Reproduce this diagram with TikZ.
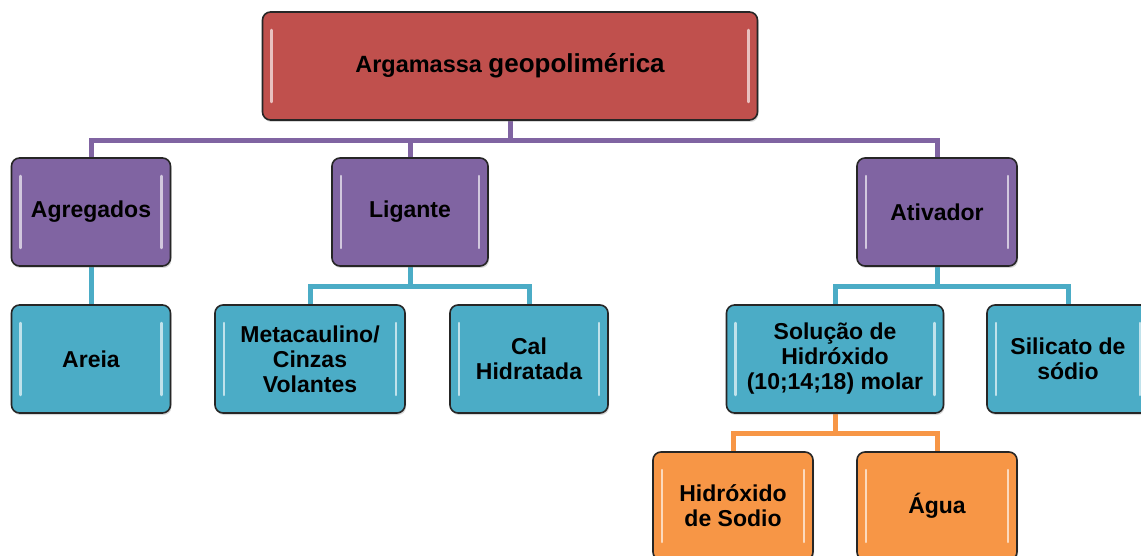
\documentclass[tikz,border=0pt]{standalone}
\usepackage{fontspec}
\setmainfont{Liberation Sans}
\usetikzlibrary{shadows,backgrounds}
\definecolor{cred}{HTML}{C0504D}
\definecolor{cpur}{HTML}{8064A2}
\definecolor{ccya}{HTML}{4BACC6}
\definecolor{cora}{HTML}{F79646}
\tikzset{
  box/.style={draw=black!85, line width=1.6pt, rounded corners=8pt, fill=#1,
    minimum height=108pt, align=center, inner sep=2pt,
    font=\fontsize{23}{25}\selectfont\bfseries,
    drop shadow={shadow xshift=1pt, shadow yshift=-2pt, opacity=0.3},
    path picture={
      \draw[sharp corners, white, opacity=0.65, line width=2.5pt, line cap=round]
        ([xshift=9pt,yshift=-18pt]path picture bounding box.north west) --
        ([xshift=9pt,yshift=18pt]path picture bounding box.south west);
      \draw[sharp corners, white, opacity=0.65, line width=2.5pt, line cap=round]
        ([xshift=-9pt,yshift=-18pt]path picture bounding box.north east) --
        ([xshift=-9pt,yshift=18pt]path picture bounding box.south east);
    }},
  conn/.style={draw=#1, line width=5pt},
}
\begin{document}
\begin{tikzpicture}[x=1pt,y=-1pt]
\useasboundingbox (0,0) rectangle (1141,556);
\node[box=cred, minimum width=495pt] (top) at (510,66)
  {{\fontsize{23.5}{25}\selectfont Argamassa} {\fontsize{26}{25}\selectfont geopolimérica}};
\node[box=cpur, minimum width=159pt] (agr) at (91,212) {Agregados};
\node[box=cpur, minimum width=156pt] (lig) at (410,212) {Ligante};
\node[box=cpur, minimum width=160pt] (ati) at (937,212) {Ativador};
\node[box=ccya, minimum width=159pt] (are) at (91,359) {Areia};
\node[box=ccya, minimum width=190pt] (met) at (310,359) {Metacaulino/\\Cinzas\\Volantes};
\node[box=ccya, minimum width=158pt] (cal) at (529,359) {Cal\\Hidratada};
\node[box=ccya, minimum width=217pt] (sol) at (835,359) {Solução de\\Hidróxido\\(10;14;18) molar};
\node[box=ccya, minimum width=162pt] (sil) at (1068,359) {Silicato de\\sódio};
\node[box=cora, minimum width=160pt] (hid) at (733,506) {Hidróxido\\de Sodio};
\node[box=cora, minimum width=160pt] (agu) at (937,506) {Água};
\begin{scope}[on background layer]
\draw[conn=cpur] (top.south) -- ++(0,20) -| (agr.north);
\draw[conn=cpur] (top.south) -- ++(0,20) -| (lig.north);
\draw[conn=cpur] (top.south) -- ++(0,20) -| (ati.north);
\draw[conn=ccya] (agr.south) -- (are.north);
\draw[conn=ccya] (lig.south) -- ++(0,20) -| (met.north);
\draw[conn=ccya] (lig.south) -- ++(0,20) -| (cal.north);
\draw[conn=ccya] (ati.south) -- ++(0,20) -| (sol.north);
\draw[conn=ccya] (ati.south) -- ++(0,20) -| (sil.north);
\draw[conn=cora] (sol.south) -- ++(0,20) -| (hid.north);
\draw[conn=cora] (sol.south) -- ++(0,20) -| (agu.north);
\end{scope}
\end{tikzpicture}
\end{document}
